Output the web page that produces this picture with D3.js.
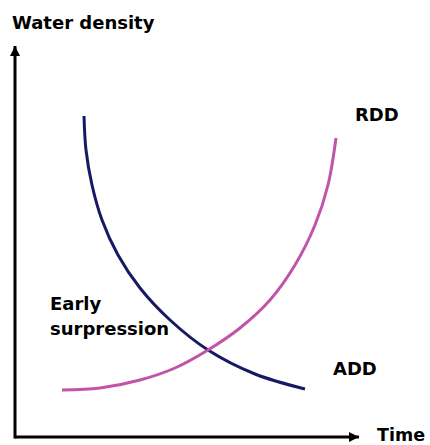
<!DOCTYPE html>
<html>
<head>
<meta charset="utf-8">
<script src="https://cdn.jsdelivr.net/npm/d3@7"></script>
<style>
  html, body { margin: 0; padding: 0; background: #fff; }
  svg { display: block; }
  text { font-family: "DejaVu Sans", Verdana, sans-serif; font-weight: bold; fill: #000; }
</style>
</head>
<body>
<div id="chart"></div>
<script>
// curve samples (time, water density)
const addTime    = [69, 71, 77, 87, 103, 125, 155, 193, 240, 290];
const addDensity = [321, 287, 252, 217, 182, 149, 117, 87, 63, 48];
const rddTime    = [47, 85, 125, 160, 193, 225, 255, 280, 300, 313, 321];
const rddDensity = [47, 49, 57, 69, 87, 109, 137, 172, 212, 252, 299];

const axisLabels = { x: 'Time', y: 'Water density' };
const seriesNames = ['ADD', 'RDD'];
const noteLines = ['Early', 'surpression'];

const width = 430, height = 445;
const config = {
  origin: { x: 15, y: 437 },
  xEnd: 360,
  yEnd: 45,
  axis: { width: 3, color: '#000' },
  colors: { ADD: '#171a63', RDD: '#c154a8' },
  curveWidth: 3,
  fontSize: 18
};

const svg = d3.select('#chart').append('svg')
  .attr('width', width)
  .attr('height', height);

const x = d3.scaleLinear().domain([0, 345]).range([config.origin.x, config.xEnd]);
const y = d3.scaleLinear().domain([0, 392]).range([config.origin.y, config.yEnd]);

// arrow heads
const defs = svg.append('defs');
defs.append('marker')
  .attr('id', 'arrow')
  .attr('viewBox', '0 0 10 10')
  .attr('refX', 10).attr('refY', 5)
  .attr('markerUnits', 'userSpaceOnUse')
  .attr('markerWidth', 11).attr('markerHeight', 10)
  .attr('orient', 'auto')
  .append('path')
  .attr('d', 'M0,0 L10,5 L0,10 Z')
  .attr('fill', config.axis.color);

// axes
svg.append('line')
  .attr('x1', x(0)).attr('y1', y(0))
  .attr('x2', x(345) - 1).attr('y2', y(0))
  .attr('stroke', config.axis.color)
  .attr('stroke-width', config.axis.width)
  .attr('marker-end', 'url(#arrow)');

svg.append('line')
  .attr('x1', x(0)).attr('y1', y(0) + config.axis.width / 2)
  .attr('x2', x(0)).attr('y2', y(392) + 1)
  .attr('stroke', config.axis.color)
  .attr('stroke-width', config.axis.width)
  .attr('marker-end', 'url(#arrow)');

// curves
const line = d3.line()
  .x(d => x(d[0]))
  .y(d => y(d[1]))
  .curve(d3.curveCatmullRom.alpha(0.5));

const series = [
  { name: 'ADD', pts: d3.zip(addTime, addDensity) },
  { name: 'RDD', pts: d3.zip(rddTime, rddDensity) }
];

svg.selectAll('.curve')
  .data(series)
  .enter()
  .append('path')
  .attr('class', 'curve')
  .attr('d', d => line(d.pts))
  .attr('fill', 'none')
  .attr('stroke', d => config.colors[d.name])
  .attr('stroke-width', config.curveWidth);

// texts
svg.append('text')
  .text(axisLabels.y)
  .attr('x', 12).attr('y', 29)
  .attr('font-size', config.fontSize);

svg.append('text')
  .text(axisLabels.x)
  .attr('x', 377).attr('y', 441)
  .attr('font-size', 17.5);

svg.append('text')
  .text(seriesNames[1])
  .attr('x', 355).attr('y', 121)
  .attr('font-size', config.fontSize);

svg.append('text')
  .text(seriesNames[0])
  .attr('x', 333).attr('y', 375)
  .attr('font-size', config.fontSize);

svg.append('text')
  .selectAll('tspan')
  .data(noteLines)
  .enter()
  .append('tspan')
  .attr('x', 50)
  .attr('y', (d, i) => 310 + i * 25)
  .text(d => d)
  .attr('font-size', config.fontSize);
</script>
</body>
</html>
